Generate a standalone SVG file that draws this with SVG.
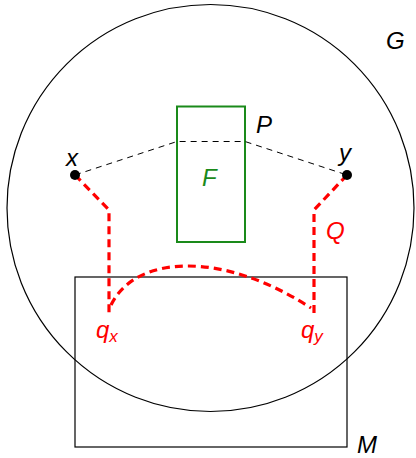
<svg xmlns="http://www.w3.org/2000/svg" width="416" height="458" viewBox="0 0 416 458">
<style>
text{font-family:"Liberation Sans",Arial,sans-serif;font-style:italic;font-size:24px}
.blk{fill:none;stroke:#000;stroke-width:1.2}
.red{fill:none;stroke:#f00;stroke-width:3.2;stroke-dasharray:8,5}
.dsh{fill:none;stroke:#000;stroke-width:1;stroke-dasharray:6,5}
</style>
<rect width="416" height="458" fill="#fff"/>
<g id="G"><circle cx="210.5" cy="208" r="203.5" class="blk"/><text x="386" y="49">G</text></g>
<g id="M"><rect x="75" y="277" width="272" height="170" class="blk"/><text x="357" y="453">M</text></g>
<g id="F"><rect x="177" y="106.5" width="68" height="135.5" fill="none" stroke="#1a8a1a" stroke-width="2"/><text x="202" y="186" fill="#1a8a1a">F</text></g>
<g id="connectors">
<path d="M75,175 L177,141.5 L245,141.5 L347,175" class="dsh"/>
<path d="M75,175 L109,210 L109,313" class="red"/>
<path d="M347,175 L314,210 L314,313" class="red"/>
<path d="M111,305 C135,255 222,250 311,308" class="red"/>
</g>
<g id="P"><text x="256" y="133">P</text></g>
<g id="x"><circle cx="75" cy="175" r="5"/><text x="66" y="166">x</text></g>
<g id="y"><circle cx="347" cy="175" r="5"/><text x="339" y="161">y</text></g>
<g id="Q"><text x="326" y="239" fill="#f00">Q</text></g>
<g id="qx"><text x="96" y="338" fill="#f00">q<tspan font-size="17" dy="4">x</tspan></text></g>
<g id="qy"><text x="301" y="338" fill="#f00">q<tspan font-size="17" dy="4">y</tspan></text></g>
</svg>
